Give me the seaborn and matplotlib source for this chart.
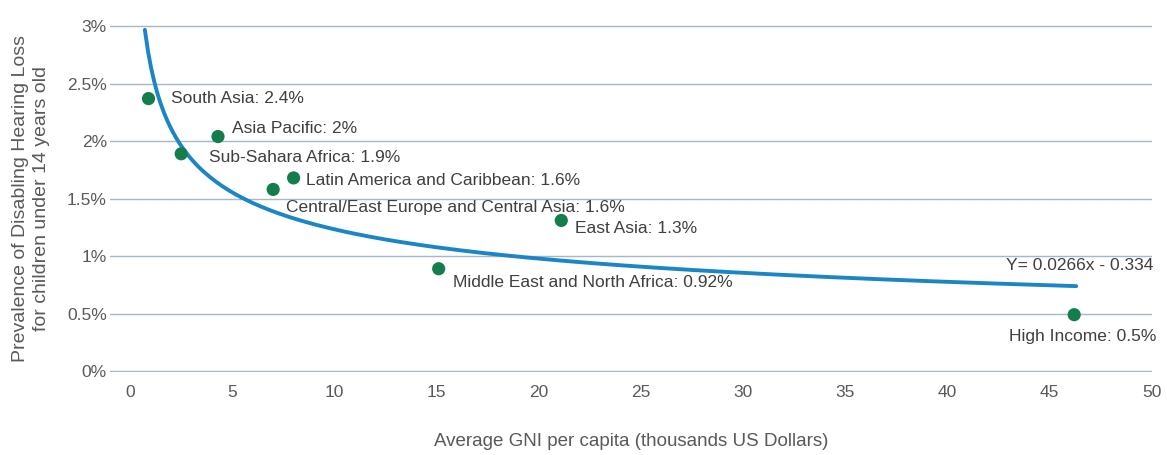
import numpy as np
import matplotlib
matplotlib.use("Agg")
import matplotlib.pyplot as plt
from matplotlib.ticker import FuncFormatter
import pandas as pd
import seaborn as sns

regions = [
    "South Asia", "Asia Pacific", "Sub-Sahara Africa", "Central/East Europe and Central Asia",
    "Latin America and Caribbean", "Middle East and North Africa", "East Asia", "High Income",
]
gni = [0.9, 4.3, 2.5, 7.0, 8.0, 15.1, 21.1, 46.2]
prevalence = [2.37, 2.04, 1.89, 1.58, 1.68, 0.89, 1.31, 0.49]
labels = [
    "South Asia: 2.4%", "Asia Pacific: 2%", "Sub-Sahara Africa: 1.9%",
    "Central/East Europe and Central Asia: 1.6%", "Latin America and Caribbean: 1.6%",
    "Middle East and North Africa: 0.92%", "East Asia: 1.3%", "High Income: 0.5%",
]
# label offsets in points (dx, dy)
offsets = [(16, 0), (10, 6), (20, -3), (9, -13), (9, -2), (10, -10), (10, -6), (6, -16)]

# trend line shown on chart: y = 0.0266 * x^-0.334
coef_a = 0.0266
coef_b = -0.334
trend_x = np.linspace(0.72, 46.3, 300)
trend_y = coef_a * trend_x ** coef_b * 100

df = pd.DataFrame({"region": regions, "gni": gni, "prevalence": prevalence})
trend = pd.DataFrame({"gni": trend_x, "prevalence": trend_y})

sns.set_style("white")
plt.rcParams["font.family"] = ["Liberation Sans", "DejaVu Sans"]

fig = plt.figure(figsize=(11.67, 4.55), dpi=100)
ax = fig.add_axes([0.094, 0.182, 0.893, 0.763])

text_col = "#3f3f3f"
sns.lineplot(data=trend, x="gni", y="prevalence", color="#1b86c6", linewidth=2.8, ax=ax)
sns.scatterplot(data=df, x="gni", y="prevalence", color="#147d4c", s=90, edgecolor="none", ax=ax, zorder=4)

for x, y, lab, (dx, dy) in zip(gni, prevalence, labels, offsets):
    ha = "center" if lab.startswith("High") else "left"
    ax.annotate(lab, (x, y), xytext=(dx, dy), textcoords="offset points",
                ha=ha, va="center", fontsize=12.5, color=text_col)

ax.text(50.1, 0.92, "Y= 0.0266x - 0.334", ha="right", va="center", fontsize=12.5, color=text_col)

ax.set_xlim(-1, 50)
ax.set_ylim(-0.01, 3.01)
ax.set_xticks(range(0, 51, 5))
ax.set_yticks([0, 0.5, 1, 1.5, 2, 2.5, 3])
ax.yaxis.set_major_formatter(FuncFormatter(lambda v, p: f"{v:g}%"))
ax.grid(axis="y", color="#a8b7c6", linewidth=1)
ax.set_axisbelow(True)
for s in ax.spines.values():
    s.set_visible(False)
ax.tick_params(axis="x", length=0, labelsize=12.5, labelcolor="#595959", pad=9)
ax.tick_params(axis="y", length=0, labelsize=12.5, labelcolor="#595959", pad=2)
ax.set_xlabel("Average GNI per capita (thousands US Dollars)", fontsize=13.5, color="#595959", labelpad=24)
ax.set_ylabel("Prevalence of Disabling Hearing Loss\nfor children under 14 years old", fontsize=14,
              color="#595959", labelpad=12, linespacing=1.35)

fig.savefig("out.png", dpi=100)
